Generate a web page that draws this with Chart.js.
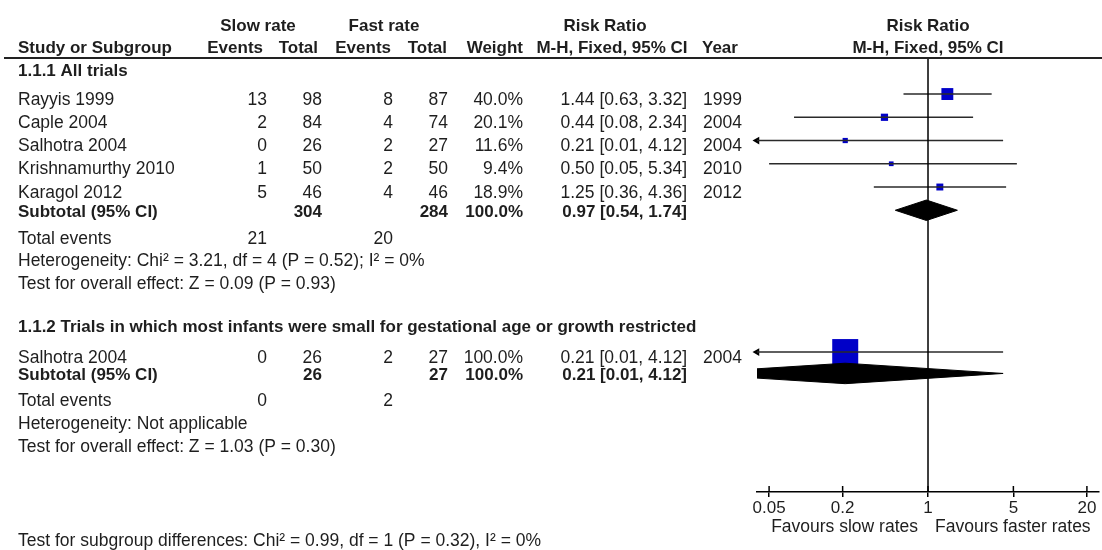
<!DOCTYPE html>
<html>
<head>
<meta charset="utf-8">
<title>Slow vs fast rate - Risk Ratio forest plot</title>
<script src="https://cdn.jsdelivr.net/npm/chart.js@4.4.0/dist/chart.umd.min.js"></script>
<style>
  html, body { margin: 0; padding: 0; background: #fff; }
  #wrap { width: 1102px; height: 550px; }
</style>
</head>
<body>
<div id="wrap"><canvas id="forest" width="1102" height="550"></canvas></div>
<script>
//-----------------------------------------------------
// Data read off the review output
//-----------------------------------------------------

// 1.1.1 All trials
const g1Studies = ['Rayyis 1999', 'Caple 2004', 'Salhotra 2004', 'Krishnamurthy 2010', 'Karagol 2012'];
const g1SlowEvents = [13, 2, 0, 1, 5];
const g1SlowTotal = [98, 84, 26, 50, 46];
const g1FastEvents = [8, 4, 2, 2, 4];
const g1FastTotal = [87, 74, 27, 50, 46];
const g1Weight = [40.0, 20.1, 11.6, 9.4, 18.9];
const g1RR = [1.44, 0.44, 0.21, 0.50, 1.25];
const g1Low = [0.63, 0.08, 0.01, 0.05, 0.36];
const g1High = [3.32, 2.34, 4.12, 5.34, 4.36];
const g1Year = [1999, 2004, 2004, 2010, 2012];

// 1.1.2 small for gestational age / growth restricted
const g2Studies = ['Salhotra 2004'];
const g2SlowEvents = [0];
const g2SlowTotal = [26];
const g2FastEvents = [2];
const g2FastTotal = [27];
const g2Weight = [100.0];
const g2RR = [0.21];
const g2Low = [0.01];
const g2High = [4.12];
const g2Year = [2004];

// per subgroup summaries
const groupTitles = ['1.1.1 All trials', '1.1.2 Trials in which most infants were small for gestational age or growth restricted'];
const subSlowTotal = [304, 26];
const subFastTotal = [284, 27];
const subRR = [0.97, 0.21];
const subLow = [0.54, 0.01];
const subHigh = [1.74, 4.12];
const totSlowEvents = [21, 0];
const totFastEvents = [20, 2];
const heterogeneity = ['Heterogeneity: Chi\u00b2 = 3.21, df = 4 (P = 0.52); I\u00b2 = 0%', 'Heterogeneity: Not applicable'];
const overallEffect = ['Test for overall effect: Z = 0.09 (P = 0.93)', 'Test for overall effect: Z = 1.03 (P = 0.30)'];
const subgroupDiff = 'Test for subgroup differences: Chi\u00b2 = 0.99, df = 1 (P = 0.32), I\u00b2 = 0%';

// axis
const xTicks = [0.05, 0.2, 1, 5, 20];
const favourLabels = ['Favours slow rates', 'Favours faster rates'];

//-----------------------------------------------------
// Layout (row units on the hidden y scale)
//-----------------------------------------------------
const X_MIN = 0.0398, X_MAX = 25.12;
const Y_MAX = 18.67;
const DIAMOND_H = 0.44;
const layout = [
    { title: 0.56, first: 1.55, sub: 6.55, tot: 7.8, het: 8.74, test: 9.72 },
    { title: 11.6, first: 12.65, sub: 13.57, tot: 14.77, het: 15.76, test: 16.75 }
];
const HEAD1 = -1.36, HEAD2 = -0.42, BOTTOM_ROW = 20.8, FAVOUR_ROW = 20.2;
const COL = { name: 18, slowEv: 267, slowTot: 322, fastEv: 393, fastTot: 448, weight: 523, ci: 687, year: 703 };
const FONT = '"Liberation Sans", Arial, sans-serif';
const TXT = '#1e1e1e';

const groups = [
    { names: g1Studies, se: g1SlowEvents, st: g1SlowTotal, fe: g1FastEvents, ft: g1FastTotal, w: g1Weight, rr: g1RR, lo: g1Low, hi: g1High, yr: g1Year },
    { names: g2Studies, se: g2SlowEvents, st: g2SlowTotal, fe: g2FastEvents, ft: g2FastTotal, w: g2Weight, rr: g2RR, lo: g2Low, hi: g2High, yr: g2Year }
];

const ciText = (r, l, h) => r.toFixed(2) + ' [' + l.toFixed(2) + ', ' + h.toFixed(2) + ']';
// box side grows with study weight
const boxRadius = w => (2.5 + 0.235 * w) / Math.SQRT2;

//-----------------------------------------------------
// Datasets
//-----------------------------------------------------
const datasets = [];

// line of no effect
datasets.push({
    data: [{ x: 1, y: 0 }, { x: 1, y: Y_MAX }],
    showLine: true, borderColor: '#000', borderWidth: 1.5, pointRadius: 0
});

const boxes = [];
const arrows = [];
groups.forEach((g, gi) => {
    g.rr.forEach((v, i) => {
        const y = layout[gi].first + i;
        datasets.push({
            data: [{ x: g.lo[i], y: y }, { x: g.hi[i], y: y }],
            showLine: true, borderColor: '#2a2a2a', borderWidth: 1.5, pointRadius: 0
        });
        boxes.push({ x: v, y: y, w: g.w[i] });
        if (g.lo[i] < X_MIN) arrows.push({ x: X_MIN, y: y });
    });
    // subtotal diamond
    const yd = layout[gi].sub;
    datasets.push({
        data: [
            { x: subLow[gi], y: yd },
            { x: subRR[gi], y: yd - DIAMOND_H },
            { x: subHigh[gi], y: yd },
            { x: subRR[gi], y: yd + DIAMOND_H },
            { x: subLow[gi], y: yd }
        ],
        showLine: true, fill: 'shape', tension: 0,
        borderColor: '#000', backgroundColor: '#000', borderWidth: 1, pointRadius: 0
    });
});

datasets.push({
    data: boxes,
    pointStyle: 'rect',
    pointRadius: ctx => boxRadius(ctx.raw.w),
    backgroundColor: '#0000c8', borderColor: '#0000c8', borderWidth: 0
});

datasets.push({
    data: arrows,
    pointStyle: 'triangle', rotation: 270, pointRadius: 4.5,
    backgroundColor: '#000', borderColor: '#000', borderWidth: 0, clip: false
});

//-----------------------------------------------------
// Table text + header rule drawn around the plot
//-----------------------------------------------------
function put(ctx, text, x, y, align, bold) {
    ctx.font = bold ? 'bold 17px ' + FONT : '17.5px ' + FONT;
    ctx.textAlign = align;
    ctx.textBaseline = 'middle';
    ctx.fillStyle = TXT;
    ctx.fillText(String(text), x, y);
}

const tablePlugin = {
    id: 'forestTable',
    afterDraw(chart) {
        const { ctx, chartArea } = chart;
        const xs = chart.scales.x, ys = chart.scales.y;
        const py = v => ys.getPixelForValue(v);
        const midX = xs.getPixelForValue(1);
        ctx.save();

        // header rule
        ctx.strokeStyle = '#222';
        ctx.lineWidth = 2;
        ctx.beginPath();
        ctx.moveTo(4, chartArea.top);
        ctx.lineTo(1102, chartArea.top);
        ctx.stroke();

        // tick marks poke above the axis
        ctx.lineWidth = 1.5;
        ctx.strokeStyle = '#000';
        xs.ticks.forEach(t => {
            const px = xs.getPixelForValue(t.value);
            ctx.beginPath();
            ctx.moveTo(px, chartArea.bottom - 6);
            ctx.lineTo(px, chartArea.bottom);
            ctx.stroke();
        });

        // column headers
        put(ctx, 'Slow rate', 258, py(HEAD1), 'center', true);
        put(ctx, 'Fast rate', 384, py(HEAD1), 'center', true);
        put(ctx, 'Risk Ratio', 605, py(HEAD1), 'center', true);
        put(ctx, 'Risk Ratio', midX, py(HEAD1), 'center', true);
        put(ctx, 'Study or Subgroup', COL.name, py(HEAD2), 'left', true);
        put(ctx, 'Events', 263, py(HEAD2), 'right', true);
        put(ctx, 'Total', 318, py(HEAD2), 'right', true);
        put(ctx, 'Events', 391, py(HEAD2), 'right', true);
        put(ctx, 'Total', 447, py(HEAD2), 'right', true);
        put(ctx, 'Weight', COL.weight, py(HEAD2), 'right', true);
        put(ctx, 'M-H, Fixed, 95% CI', 612, py(HEAD2), 'center', true);
        put(ctx, 'Year', 702, py(HEAD2), 'left', true);
        put(ctx, 'M-H, Fixed, 95% CI', midX, py(HEAD2), 'center', true);

        groups.forEach((g, gi) => {
            const L = layout[gi];
            put(ctx, groupTitles[gi], COL.name, py(L.title), 'left', true);
            g.names.forEach((n, i) => {
                const y = py(L.first + i + 0.25);
                put(ctx, n, COL.name, y, 'left');
                put(ctx, g.se[i], COL.slowEv, y, 'right');
                put(ctx, g.st[i], COL.slowTot, y, 'right');
                put(ctx, g.fe[i], COL.fastEv, y, 'right');
                put(ctx, g.ft[i], COL.fastTot, y, 'right');
                put(ctx, g.w[i].toFixed(1) + '%', COL.weight, y, 'right');
                put(ctx, ciText(g.rr[i], g.lo[i], g.hi[i]), COL.ci, y, 'right');
                put(ctx, g.yr[i], COL.year, y, 'left');
            });
            const ys2 = py(L.sub + 0.07);
            put(ctx, 'Subtotal (95% CI)', COL.name, ys2, 'left', true);
            put(ctx, subSlowTotal[gi], COL.slowTot, ys2, 'right', true);
            put(ctx, subFastTotal[gi], COL.fastTot, ys2, 'right', true);
            put(ctx, '100.0%', COL.weight, ys2, 'right', true);
            put(ctx, ciText(subRR[gi], subLow[gi], subHigh[gi]), COL.ci, ys2, 'right', true);

            put(ctx, 'Total events', COL.name, py(L.tot), 'left');
            put(ctx, totSlowEvents[gi], COL.slowEv, py(L.tot), 'right');
            put(ctx, totFastEvents[gi], COL.fastEv, py(L.tot), 'right');
            put(ctx, heterogeneity[gi], COL.name, py(L.het), 'left');
            put(ctx, overallEffect[gi], COL.name, py(L.test), 'left');
        });

        put(ctx, subgroupDiff, COL.name, py(BOTTOM_ROW), 'left');
        put(ctx, favourLabels[0], midX - 10, py(FAVOUR_ROW), 'right');
        put(ctx, favourLabels[1], midX + 7, py(FAVOUR_ROW), 'left');
        ctx.restore();
    }
};

//-----------------------------------------------------
// Chart
//-----------------------------------------------------
new Chart(document.getElementById('forest').getContext('2d'), {
    type: 'scatter',
    data: { datasets: datasets },
    options: {
        responsive: false,
        animation: false,
        devicePixelRatio: 1,
        layout: { autoPadding: false, padding: { left: 757, right: 3, top: 58, bottom: 0 } },
        plugins: { legend: { display: false }, tooltip: { enabled: false } },
        scales: {
            x: {
                type: 'logarithmic',
                position: 'bottom',
                min: X_MIN,
                max: X_MAX,
                afterBuildTicks: s => { s.ticks = xTicks.map(v => ({ value: v })); },
                afterFit: s => {
                    s.height = 58;
                    s.paddingLeft = 0;
                    s.paddingRight = 0;
                },
                grid: { drawOnChartArea: false, drawTicks: true, tickLength: 5, color: '#000', lineWidth: 1.5 },
                border: { display: true, color: '#000', width: 1.5 },
                ticks: {
                    color: TXT, padding: 1, autoSkip: false, maxRotation: 0,
                    font: { family: FONT, size: 17 },
                    callback: v => String(v)
                }
            },
            y: { type: 'linear', min: 0, max: Y_MAX, reverse: true, display: false }
        }
    },
    plugins: [tablePlugin]
});
</script>
</body>
</html>
